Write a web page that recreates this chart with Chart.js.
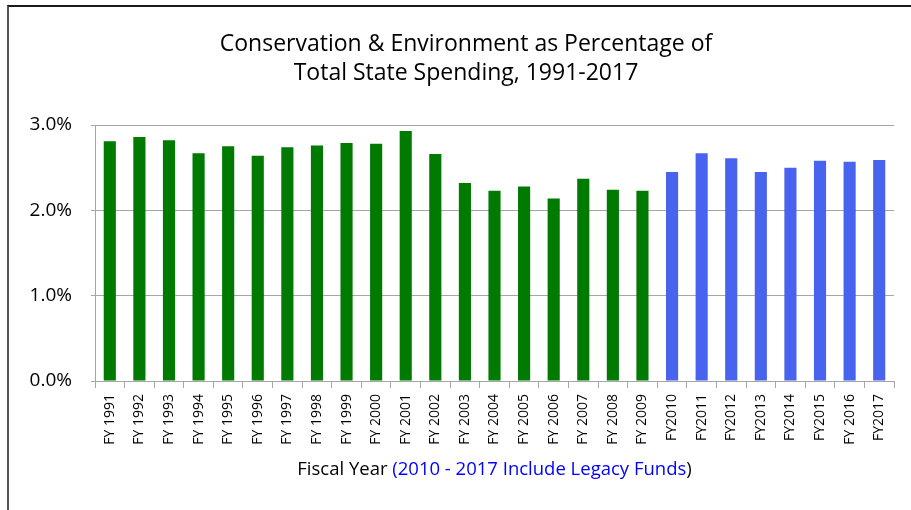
<!DOCTYPE html>
<html>
<head>
<meta charset="utf-8">
<script src="https://cdn.jsdelivr.net/npm/chart.js@4/dist/chart.umd.min.js"></script>
<style>
  html, body { margin: 0; padding: 0; background: #fff; }
  #wrap { position: relative; width: 911px; height: 510px; overflow: hidden; }
  #frame { position: absolute; left: 7px; top: 5px; width: 920px; height: 600px;
           border-left: 2px solid #555; border-top: 2px solid #1a1a1a; pointer-events: none; }
  canvas { position: absolute; left: 0; top: 0; }
</style>
</head>
<body>
<div id="wrap">
  <canvas id="c" width="911" height="510"></canvas>
  <div id="frame"></div>
</div>
<script>
const categories = ['FY 1991','FY 1992','FY 1993','FY 1994','FY 1995','FY 1996','FY 1997','FY 1998','FY 1999','FY 2000',
  'FY 2001','FY 2002','FY 2003','FY 2004','FY 2005','FY 2006','FY 2007','FY 2008','FY 2009',
  'FY2010','FY2011','FY2012','FY2013','FY2014','FY2015','FY 2016','FY2017'];
const percentValues = [2.81,2.86,2.82,2.67,2.75,2.64,2.74,2.76,2.79,2.78,
  2.93,2.66,2.32,2.23,2.28,2.14,2.37,2.24,2.23,
  2.45,2.67,2.61,2.45,2.50,2.58,2.57,2.59];
const includesLegacy = [false,false,false,false,false,false,false,false,false,false,
  false,false,false,false,false,false,false,false,false,
  true,true,true,true,true,true,true,true];
const titleLines = ['Conservation & Environment as Percentage of', 'Total State Spending, 1991-2017'];
const xTitleParts = [['Fiscal Year ', '#000000'], ['(2010 - 2017 Include Legacy Funds', '#0000FF'], [')', '#000000']];
const yMin = 0, yMax = 3, yStep = 1;

const GREEN = '#007A00', BLUE = '#4863EE';
const FONT = "'Open Sans', sans-serif";

const textPlugin = {
  id: 'chartTexts',
  afterDraw(chart) {
    const ctx = chart.ctx, area = chart.chartArea;
    ctx.save();
    // main title (two lines)
    ctx.font = "23px " + FONT;
    ctx.fillStyle = '#000';
    ctx.textAlign = 'center';
    ctx.textBaseline = 'middle';
    titleLines.forEach((line, i) => ctx.fillText(line, 466, 44 + i * 29));
    // x-axis title with mixed colours
    ctx.font = "18.5px " + FONT;
    ctx.textAlign = 'left';
    let total = 0;
    xTitleParts.forEach(p => total += ctx.measureText(p[0]).width);
    let x = (area.left + area.right) / 2 - total / 2;
    const y = 470;
    xTitleParts.forEach(p => {
      ctx.fillStyle = p[1];
      ctx.fillText(p[0], x, y);
      x += ctx.measureText(p[0]).width;
    });
    ctx.restore();
  }
};

new Chart(document.getElementById('c'), {
  type: 'bar',
  data: {
    labels: categories,
    datasets: [{
      data: percentValues,
      backgroundColor: includesLegacy.map(l => l ? BLUE : GREEN),
      borderWidth: 0,
      barPercentage: 0.41,
      categoryPercentage: 1.0
    }]
  },
  options: {
    responsive: false,
    animation: false,
    devicePixelRatio: 1,
    layout: { padding: { left: 22, right: 17, top: 125, bottom: 0 } },
    plugins: {
      legend: { display: false },
      tooltip: { enabled: false },
      title: { display: false }
    },
    scales: {
      x: {
        offset: true,
        grid: { display: true, drawOnChartArea: false, offset: true, tickLength: 7, color: '#A6A6A6', lineWidth: 1 },
        border: { display: true, color: '#A6A6A6', width: 1 },
        ticks: {
          color: '#000', autoSkip: false, maxRotation: 90, minRotation: 90, padding: 6,
          font: { family: FONT, size: 14 }
        },
        afterFit(scale) { scale.height = 129; }
      },
      y: {
        min: yMin, max: yMax,
        grid: { color: '#A6A6A6', lineWidth: 1, tickLength: 4 },
        border: { display: true, color: '#A6A6A6', width: 1 },
        ticks: {
          stepSize: yStep, color: '#000', padding: 19,
          font: { family: FONT, size: 19 },
          callback: v => v.toFixed(1) + '%'
        },
        afterFit(scale) { scale.width = 73; }
      }
    }
  },
  plugins: [textPlugin]
});
</script>
</body>
</html>
